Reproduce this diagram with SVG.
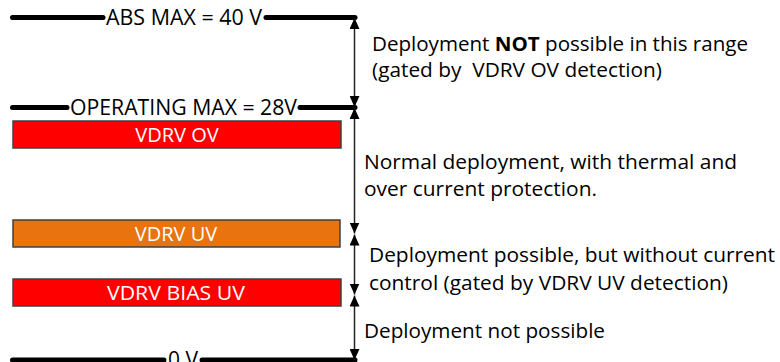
<svg xmlns="http://www.w3.org/2000/svg" width="780" height="362" viewBox="0 0 780 362">
<style>
.lvl{stroke:#000;stroke-width:5;stroke-linecap:round;fill:none}
.lbl{font-family:"Open Sans","Liberation Sans",sans-serif;font-size:21px;fill:#000}
.box{stroke:#404040;stroke-width:1.5}
.btx{font-family:"Open Sans","Liberation Sans",sans-serif;font-size:20px;fill:#fff;text-anchor:middle}
.note{font-family:"Open Sans","Liberation Sans",sans-serif;font-size:20px;fill:#000;white-space:pre}
.arr{stroke:#222;stroke-width:1.5;fill:none;marker-start:url(#ah);marker-end:url(#ah)}
</style>
<defs>
<marker id="ah" markerUnits="userSpaceOnUse" markerWidth="11" markerHeight="10" refX="11" refY="5" orient="auto-start-reverse" viewBox="0 0 11 10">
<path d="M0,0 L11,5 L0,10 z" fill="#000"/>
</marker>
</defs>
<rect width="780" height="362" fill="#fff"/>
<g id="abs-max">
<line class="lvl" x1="12.5" y1="17.5" x2="103" y2="17.5"/>
<line class="lvl" x1="266" y1="17.5" x2="355" y2="17.5"/>
<text class="lbl" x="106" y="25" textLength="156" lengthAdjust="spacingAndGlyphs">ABS MAX = 40 V</text>
</g>
<g id="operating-max">
<line class="lvl" x1="12.5" y1="107.5" x2="67" y2="107.5"/>
<line class="lvl" x1="300" y1="107.5" x2="355" y2="107.5"/>
<text class="lbl" x="70" y="115" textLength="227" lengthAdjust="spacingAndGlyphs">OPERATING MAX = 28V</text>
</g>
<g id="zero-v">
<line class="lvl" x1="12.5" y1="360" x2="164" y2="360"/>
<line class="lvl" x1="202" y1="360" x2="355" y2="360"/>
<text class="lbl" x="168" y="367" textLength="30" lengthAdjust="spacingAndGlyphs">0 V</text>
</g>
<g id="vdrv-ov">
<rect class="box" x="13" y="121" width="328" height="27" fill="#FF0000"/>
<text class="btx" x="177" y="141.5">VDRV OV</text>
</g>
<g id="vdrv-uv">
<rect class="box" x="13" y="220" width="327" height="27" fill="#E8730F"/>
<text class="btx" x="176" y="241">VDRV UV</text>
</g>
<g id="vdrv-bias-uv">
<rect class="box" x="13" y="279" width="328" height="27" fill="#FF0000"/>
<text class="btx" x="176" y="300" textLength="138" lengthAdjust="spacingAndGlyphs">VDRV BIAS UV</text>
</g>
<g id="connectors">
<line class="arr" x1="354.5" y1="18" x2="354.5" y2="107"/>
<line class="arr" x1="354.5" y1="108" x2="354.5" y2="233.5"/>
<line class="arr" x1="354.5" y1="234.5" x2="354.5" y2="294.5"/>
<line class="arr" x1="354.5" y1="295.5" x2="354.5" y2="360"/>
</g>
<g id="notes">
<text class="note" x="372" y="51" textLength="376" lengthAdjust="spacingAndGlyphs">Deployment <tspan font-weight="bold">NOT</tspan> possible in this range</text>
<text class="note" x="372" y="77" textLength="290" lengthAdjust="spacingAndGlyphs" xml:space="preserve">(gated by  VDRV OV detection)</text>
<text class="note" x="364" y="169" textLength="373" lengthAdjust="spacingAndGlyphs">Normal deployment, with thermal and</text>
<text class="note" x="364" y="196" textLength="233" lengthAdjust="spacingAndGlyphs">over current protection.</text>
<text class="note" x="369" y="262" textLength="406" lengthAdjust="spacingAndGlyphs">Deployment possible, but without current</text>
<text class="note" x="369" y="290" textLength="359" lengthAdjust="spacingAndGlyphs">control (gated by VDRV UV detection)</text>
<text class="note" x="364" y="338" textLength="241" lengthAdjust="spacingAndGlyphs">Deployment not possible</text>
</g>
</svg>
